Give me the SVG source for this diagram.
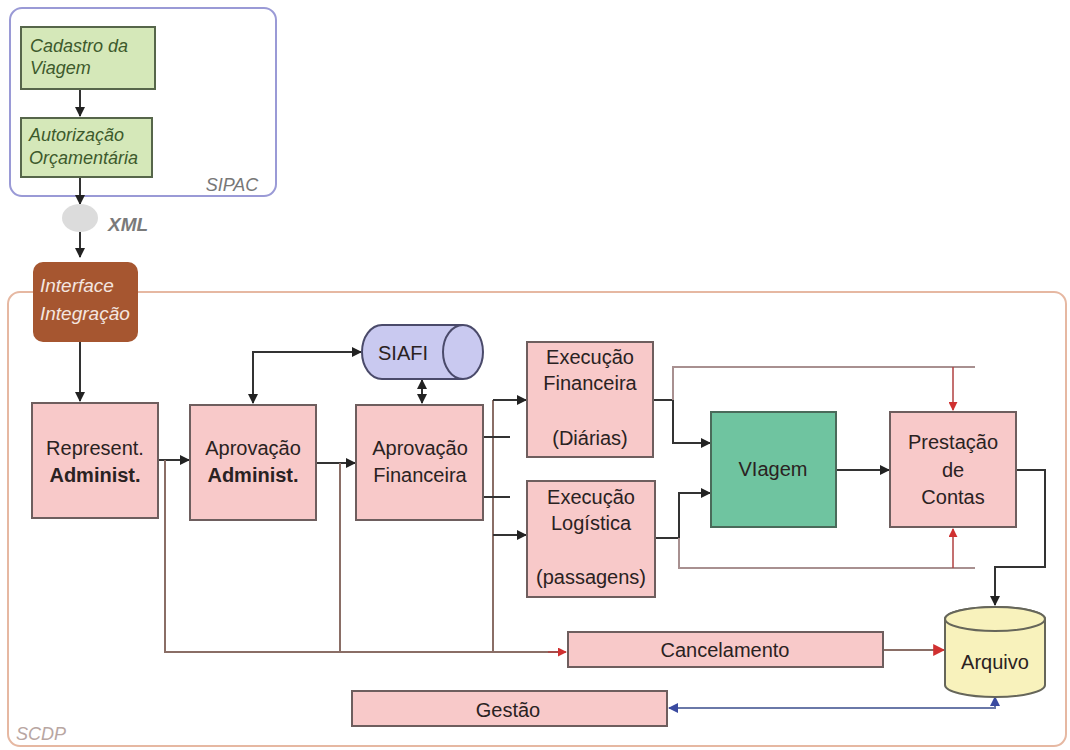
<svg xmlns="http://www.w3.org/2000/svg" width="1070" height="750" viewBox="0 0 1070 750">
<style>
text{font-family:"Liberation Sans",Arial,sans-serif;}
.box{fill:#f8c9c9;stroke:#6e5e5e;stroke-width:2;}
.t{font-size:20px;fill:#2a2222;text-anchor:middle;}
.b{font-weight:bold;}
.green{fill:#d5e8b9;stroke:#56664a;stroke-width:2;}
.gt{font-size:18px;font-style:italic;fill:#3d5a2c;}
.c{fill:none;stroke:#333;stroke-width:2;}
.cb{fill:none;stroke:#8a6e66;stroke-width:2;}
.cp{fill:none;stroke:#a89090;stroke-width:2;}
.cr{fill:none;stroke:#b04040;stroke-width:1.5;}
.cu{fill:none;stroke:#6a78a8;stroke-width:2;}
</style>
<defs>
<marker id="a" viewBox="0 0 10 10" refX="9" refY="5" markerWidth="5" markerHeight="5" orient="auto-start-reverse"><path d="M0,0 L10,5 L0,10 Z" fill="#222"/></marker>
<marker id="ar" viewBox="0 0 10 10" refX="9" refY="5" markerWidth="6" markerHeight="6" orient="auto-start-reverse"><path d="M0,0 L10,5 L0,10 Z" fill="#d03030"/></marker>
<marker id="au" viewBox="0 0 10 10" refX="9" refY="5" markerWidth="5" markerHeight="5" orient="auto-start-reverse"><path d="M0,0 L10,5 L0,10 Z" fill="#3a4aa0"/></marker>
</defs>
<rect width="1070" height="750" fill="#ffffff"/>

<g id="sipac">
<rect x="10" y="8" width="266" height="188" rx="12" fill="#ffffff" stroke="#9a9ad6" stroke-width="2"/>
<text x="232" y="191" font-size="18" font-style="italic" fill="#777" text-anchor="middle">SIPAC</text>
</g>
<g id="scdp">
<rect x="8" y="292" width="1058" height="454" rx="12" fill="#ffffff" stroke="#e6b8a2" stroke-width="2"/>
<text x="16" y="740" font-size="18" font-style="italic" fill="#b8a6a2">SCDP</text>
</g>

<g id="connectors">
<path class="c" d="M80,89 V116" marker-end="url(#a)"/>
<path class="c" d="M80,177 V204" marker-end="url(#a)"/>
<path class="c" d="M80,232 V257" marker-end="url(#a)"/>
<path class="c" d="M80,342 V401" marker-end="url(#a)"/>
<path class="c" d="M158,460 H189" marker-end="url(#a)"/>
<path class="c" d="M316,463 H355" marker-end="url(#a)"/>
<path class="c" d="M253,403 V352 H361" marker-start="url(#a)" marker-end="url(#a)"/>
<path class="c" d="M422,380 V403" marker-start="url(#a)" marker-end="url(#a)"/>
<path class="cb" d="M165,460 V652 H560"/>
<path class="cb" d="M340,463 V652"/>
<path class="cb" d="M493,400 V652"/>
<path class="c" d="M483,437 H510 M483,497 H510"/>
<path class="c" d="M493,400 H526" marker-end="url(#a)"/>
<path class="c" d="M493,535 H526" marker-end="url(#a)"/>
<path class="c" d="M653,400 H673 V443 H710" marker-end="url(#a)"/>
<path class="c" d="M655,538 H679 V493 H710" marker-end="url(#a)"/>
<path class="cp" d="M673,400 V367 H975"/>
<path class="cp" d="M679,538 V568 H975"/>
<path class="cr" d="M953,367 V410" marker-end="url(#ar)"/>
<path class="cr" d="M953,568 V529" marker-end="url(#ar)"/>
<path class="c" d="M836,470 H889" marker-end="url(#a)"/>
<path class="c" d="M1016,470 H1045 V567 H995 V605" marker-end="url(#a)"/>
<path class="cr" d="M548,652 H566" marker-end="url(#ar)"/>
<path class="cb" d="M883,650 H944" marker-end="url(#ar)"/>
<path class="cu" d="M995,697 V708 H669" marker-start="url(#au)" marker-end="url(#au)"/>
</g>

<g id="cadastro">
<rect class="green" x="21" y="27" width="134" height="62"/>
<text class="gt" x="30" y="52">Cadastro da</text>
<text class="gt" x="30" y="74">Viagem</text>
</g>
<g id="autorizacao">
<rect class="green" x="21" y="118" width="131" height="59"/>
<text class="gt" x="29" y="141">Autorização</text>
<text class="gt" x="29" y="164">Orçamentária</text>
</g>
<g id="xml">
<ellipse cx="80" cy="218" rx="18" ry="14" fill="#dcdcdc"/>
<text x="108" y="231" font-size="19" font-style="italic" font-weight="bold" fill="#7a7a7a">XML</text>
</g>
<g id="interface">
<rect x="33" y="262" width="105" height="80" rx="10" fill="#a65630"/>
<text x="40" y="292" font-size="19" font-style="italic" fill="#f4e6e0">Interface</text>
<text x="40" y="320" font-size="19" font-style="italic" fill="#f4e6e0">Integração</text>
</g>

<g id="represent">
<rect class="box" x="32" y="403" width="126" height="115"/>
<text class="t" x="95" y="455">Represent.</text>
<text class="t b" x="95" y="482">Administ.</text>
</g>
<g id="aprov-admin">
<rect class="box" x="190" y="405" width="126" height="115"/>
<text class="t" x="253" y="455">Aprovação</text>
<text class="t b" x="253" y="482">Administ.</text>
</g>
<g id="aprov-fin">
<rect class="box" x="356" y="405" width="127" height="115"/>
<text class="t" x="420" y="455">Aprovação</text>
<text class="t" x="420" y="482">Financeira</text>
</g>
<g id="siafi">
<path d="M382,325 H463 A20,27 0 0 1 463,379 H382 A20,27 0 0 1 382,325 Z" fill="#c9c9f0" stroke="#4a4a6a" stroke-width="2"/>
<path d="M463,325 A20,27 0 0 0 463,379" fill="none" stroke="#4a4a6a" stroke-width="2"/>
<text class="t" x="403" y="360">SIAFI</text>
</g>
<g id="exec-fin">
<rect class="box" x="527" y="342" width="126" height="115"/>
<text class="t" x="590" y="364">Execução</text>
<text class="t" x="590" y="390">Financeira</text>
<text class="t" x="590" y="445">(Diárias)</text>
</g>
<g id="exec-log">
<rect class="box" x="527" y="481" width="128" height="116"/>
<text class="t" x="591" y="504">Execução</text>
<text class="t" x="591" y="530">Logística</text>
<text class="t" x="591" y="584">(passagens)</text>
</g>
<g id="viagem">
<rect x="711" y="412" width="125" height="115" fill="#6fc4a0" stroke="#4a6a5a" stroke-width="2"/>
<text class="t" x="773" y="476">VIagem</text>
</g>
<g id="prestacao">
<rect class="box" x="890" y="412" width="126" height="115"/>
<text class="t" x="953" y="449">Prestação</text>
<text class="t" x="953" y="477">de</text>
<text class="t" x="953" y="504">Contas</text>
</g>
<g id="arquivo">
<path d="M945,619 V685 A50,12 0 0 0 1045,685 V619 A50,12 0 0 0 945,619 Z" fill="#f8f2bc" stroke="#66665a" stroke-width="2"/>
<ellipse cx="995" cy="619" rx="50" ry="12" fill="#f8f2bc" stroke="#66665a" stroke-width="2"/>
<text class="t" x="995" y="669">Arquivo</text>
</g>
<g id="cancelamento">
<rect class="box" x="568" y="632" width="315" height="35"/>
<text class="t" x="725" y="657">Cancelamento</text>
</g>
<g id="gestao">
<rect class="box" x="352" y="691" width="315" height="35"/>
<text class="t" x="508" y="717">Gestão</text>
</g>
</svg>
